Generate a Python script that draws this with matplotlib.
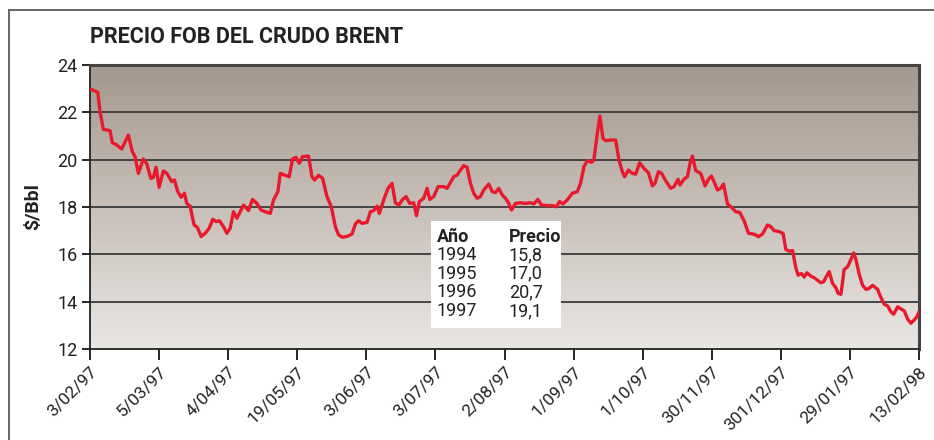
import matplotlib.pyplot as plt
import numpy as np
from matplotlib.lines import Line2D

plt.rcParams['font.family'] = ['Roboto', 'DejaVu Sans']

# fechas del eje x (posiciones 0..12)
fechas = ['3/02/97', '5/03/97', '4/04/97', '19/05/97', '3/06/97', '3/07/97',
          '2/08/97', '1/09/97', '1/10/97', '30/11/97', '301/12/97', '29/01/97',
          '13/02/98']

# posicion sobre el eje (en unidades de fecha) y precio en $/Bbl
posicion = [
    0.000, 0.112, 0.145, 0.193, 0.290, 0.323, 0.387, 0.459, 0.555, 0.613,
    0.652, 0.700, 0.772, 0.822, 0.880, 0.917, 0.957, 1.000, 1.062, 1.112,
    1.184, 1.222, 1.271, 1.319, 1.367, 1.401, 1.449, 1.507, 1.555, 1.609,
    1.667, 1.725, 1.778, 1.826, 1.874, 1.932, 1.981, 2.029, 2.077, 2.126,
    2.222, 2.294, 2.352, 2.416, 2.478, 2.536, 2.609, 2.657, 2.720, 2.754,
    2.816, 2.884, 2.932, 2.981, 3.029, 3.077, 3.164, 3.213, 3.251, 3.309,
    3.367, 3.430, 3.493, 3.551, 3.599, 3.657, 3.735, 3.793, 3.841, 3.888,
    3.938, 4.010, 4.058, 4.106, 4.155, 4.188, 4.251, 4.314, 4.372, 4.420,
    4.468, 4.526, 4.575, 4.628, 4.686, 4.725, 4.768, 4.830, 4.880, 4.917,
    4.975, 5.039, 5.120, 5.170, 5.217, 5.265, 5.314, 5.362, 5.410, 5.459,
    5.507, 5.555, 5.604, 5.652, 5.700, 5.772, 5.822, 5.870, 5.917, 5.967,
    6.014, 6.062, 6.101, 6.159, 6.232, 6.304, 6.377, 6.425, 6.483, 6.536,
    6.619, 6.691, 6.749, 6.797, 6.845, 6.909, 6.981, 7.054, 7.101, 7.149,
    7.199, 7.261, 7.294, 7.343, 7.381, 7.425, 7.464, 7.536, 7.609, 7.657,
    7.706, 7.739, 7.793, 7.851, 7.899, 7.957, 8.019, 8.083, 8.141, 8.178,
    8.228, 8.275, 8.333, 8.406, 8.454, 8.512, 8.541, 8.599, 8.648, 8.686,
    8.720, 8.768, 8.841, 8.903, 8.952, 8.996, 9.033, 9.083, 9.130, 9.170,
    9.228, 9.290, 9.348, 9.406, 9.468, 9.532, 9.613, 9.677, 9.735, 9.807,
    9.855, 9.903, 9.975, 10.033, 10.072, 10.120, 10.170, 10.217, 10.251, 10.300,
    10.338, 10.377, 10.435, 10.483, 10.532, 10.580, 10.619, 10.662, 10.700, 10.749,
    10.797, 10.830, 10.870, 10.917, 10.967, 11.014, 11.054, 11.087, 11.135, 11.184,
    11.232, 11.271, 11.329, 11.401, 11.439, 11.497, 11.546, 11.594, 11.633, 11.691,
    11.749, 11.787, 11.836, 11.884, 11.932, 11.971, 12.000,
]
precio = [
    22.99, 22.85, 22.03, 21.28, 21.23, 20.72, 20.62, 20.45, 21.04, 20.34,
    20.13, 19.42, 20.03, 19.82, 19.21, 19.25, 19.68, 18.83, 19.52, 19.42,
    19.07, 19.14, 18.65, 18.41, 18.58, 18.15, 18.04, 17.24, 17.14, 16.75,
    16.89, 17.10, 17.48, 17.38, 17.42, 17.17, 16.89, 17.10, 17.80, 17.52,
    18.08, 17.85, 18.32, 18.15, 17.87, 17.80, 17.73, 18.30, 18.65, 19.42,
    19.35, 19.28, 20.03, 20.10, 19.85, 20.13, 20.15, 19.28, 19.14, 19.34,
    19.21, 18.44, 18.01, 17.17, 16.82, 16.72, 16.77, 16.86, 17.28, 17.42,
    17.31, 17.35, 17.80, 17.85, 18.04, 17.73, 18.30, 18.79, 19.00, 18.18,
    18.08, 18.32, 18.44, 18.15, 18.18, 17.63, 18.23, 18.37, 18.79, 18.32,
    18.44, 18.86, 18.86, 18.79, 19.03, 19.28, 19.35, 19.56, 19.75, 19.68,
    19.00, 18.58, 18.37, 18.44, 18.72, 18.97, 18.65, 18.61, 18.79, 18.51,
    18.37, 18.15, 17.87, 18.15, 18.18, 18.15, 18.18, 18.13, 18.32, 18.08,
    18.06, 18.06, 18.01, 18.23, 18.13, 18.30, 18.58, 18.65, 19.00, 19.70,
    19.96, 19.89, 19.99, 21.11, 21.85, 20.90, 20.80, 20.83, 20.83, 19.99,
    19.49, 19.28, 19.56, 19.42, 19.39, 19.87, 19.63, 19.45, 18.89, 19.00,
    19.49, 19.42, 19.11, 18.79, 18.86, 19.17, 18.93, 19.18, 19.28, 19.85,
    20.15, 19.54, 19.42, 18.89, 19.17, 19.31, 19.07, 18.72, 18.79, 18.97,
    18.13, 17.97, 17.80, 17.77, 17.42, 16.89, 16.85, 16.75, 16.86, 17.24,
    17.17, 17.00, 16.96, 16.88, 16.21, 16.13, 16.16, 15.43, 15.12, 15.19,
    15.04, 15.22, 15.08, 15.01, 14.90, 14.80, 14.84, 15.08, 15.27, 14.77,
    14.59, 14.35, 14.31, 15.36, 15.48, 15.78, 16.06, 15.78, 15.15, 14.69,
    14.52, 14.55, 14.69, 14.52, 14.24, 13.89, 13.82, 13.57, 13.47, 13.78,
    13.68, 13.61, 13.26, 13.09, 13.23, 13.37, 13.57,
]

# precios medios anuales del recuadro
anios = ['1994', '1995', '1996', '1997']
precio_anual = ['15,8', '17,0', '20,7', '19,1']

fig = plt.figure(figsize=(9.34, 4.40), dpi=100)
fig.patch.set_facecolor('white')

# marco exterior (solo se ven el borde superior y el izquierdo)
fig.add_artist(Line2D([9 / 934, 9 / 934], [0, 1 - 10.5 / 440], transform=fig.transFigure,
                      color='#666666', lw=1.4))
fig.add_artist(Line2D([9 / 934, 1], [1 - 10.5 / 440, 1 - 10.5 / 440], transform=fig.transFigure,
                      color='#666666', lw=1.4))

ax = fig.add_axes([90 / 934, 91 / 440, 829 / 934, 284 / 440])

# fondo degradado
degradado = np.linspace(0, 1, 256).reshape(-1, 1)
arriba = np.array([0xa4, 0x97, 0x8d]) / 255
abajo = np.array([0xea, 0xe7, 0xe4]) / 255
colores = arriba + (abajo - arriba) * degradado[:, :, None]
ax.imshow(colores, extent=[0, 1, 0, 1], transform=ax.transAxes, aspect='auto', zorder=0)

for y in [14, 16, 18, 20, 22]:
    ax.axhline(y, color='#3a3a3a', lw=1.3, zorder=1)

ax.plot(posicion, precio, color='#e8192c', lw=2.4, zorder=3, solid_joinstyle='round')

ax.set_xlim(0, 12)
ax.set_ylim(12, 24)
ax.set_xticks(range(len(fechas)))
ax.set_xticklabels(fechas, rotation=45, ha='right', va='top', rotation_mode='anchor',
                   fontsize=12.5, color='#222222')
ax.set_yticks([12, 14, 16, 18, 20, 22, 24])
ax.tick_params(axis='y', length=6, width=1.2, pad=3, labelsize=13, labelcolor='#222222')
ax.tick_params(axis='x', length=8, width=1.2, pad=3)
for lado in ['left', 'bottom']:
    ax.spines[lado].set_color('#222222')
    ax.spines[lado].set_linewidth(1.3)
for lado in ['top', 'right']:
    ax.spines[lado].set_color('#444444')
    ax.spines[lado].set_linewidth(2.2)

ax.set_ylabel('$/Bbl', fontsize=14, fontweight='bold', labelpad=11, color='#222222')

fig.text(90 / 934, 1 - 37 / 440, 'PRECIO FOB DEL CRUDO BRENT', fontsize=15.5, fontweight='bold',
         va='center', ha='left', color='#222222')

# recuadro con los precios anuales
ax_tabla = fig.add_axes([431 / 934, 1 - 328 / 440, 130 / 934, 107 / 440])
ax_tabla.set_facecolor('white')
ax_tabla.set_xticks([])
ax_tabla.set_yticks([])
for s in ax_tabla.spines.values():
    s.set_visible(False)
ax_tabla.set_xlim(0, 130)
ax_tabla.set_ylim(107, 0)
ax_tabla.text(6, 16, 'Año', fontsize=13, fontweight='bold', va='center', color='#222222')
ax_tabla.text(78, 16, 'Precio', fontsize=13, fontweight='bold', va='center', color='#222222')
for i, (a, p) in enumerate(zip(anios, precio_anual)):
    ax_tabla.text(6, 34 + i * 18.7, a, fontsize=13, va='center', color='#222222')
    ax_tabla.text(78, 34 + i * 18.7, p, fontsize=13, va='center', color='#222222')

fig.savefig('out.png', dpi=100)
